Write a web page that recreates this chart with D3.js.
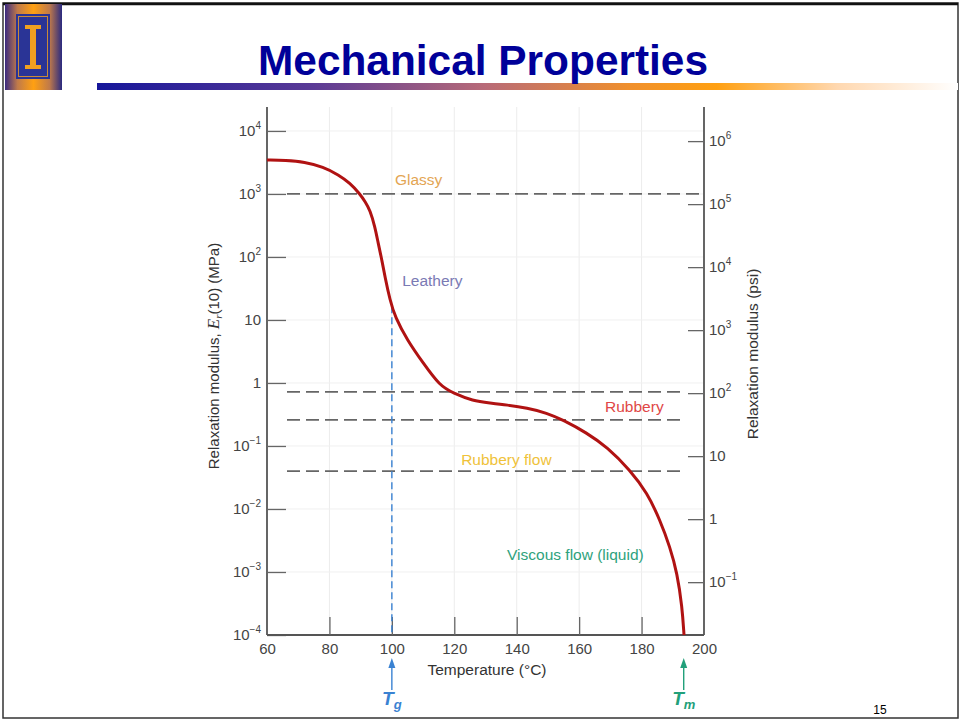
<!DOCTYPE html>
<html>
<head>
<meta charset="utf-8">
<script src="https://cdn.jsdelivr.net/npm/d3@7"></script>
<style>
  body { margin: 0; background: #fff; }
  svg text { font-family: "Liberation Sans", Arial, sans-serif; }
</style>
</head>
<body>
<svg id="chart" width="963" height="721"></svg>
<script>
// curve: temperature (C) vs relaxation modulus (MPa)
const temps = [60, 66, 72, 78, 83, 86.5, 89.8, 91.5, 93, 94.6, 95.6, 96.8, 97.8, 99.4, 101, 104.9, 110, 115.4, 119.6, 126, 131.4, 136.9, 143.3, 149.7, 154.8, 162.5, 168.9, 176.3, 181.8, 185.9, 189.1, 191.4, 193, 193.6];
const modulus = [3467, 3405, 3221, 2683, 2004, 1496, 1000, 747, 557, 299, 167, 89.5, 48.2, 20.7, 11.2, 4.82, 2.08, 0.896, 0.694, 0.518, 0.482, 0.448, 0.401, 0.334, 0.259, 0.161, 0.0964, 0.0416, 0.018, 0.00669, 0.00249, 0.000964, 0.000278, 0.0001];

const xTicks = [60, 80, 100, 120, 140, 160, 180, 200];
const leftTicks = [1e4, 1e3, 1e2, 10, 1, 1e-1, 1e-2, 1e-3, 1e-4];
const rightTicks = [1e6, 1e5, 1e4, 1e3, 1e2, 10, 1, 1e-1];
const psiPerMPa = 145.04;

// region boundaries (MPa) and labels
const boundaries = [1000, 0.72, 0.26, 0.04];
const regions = [
  { name: "Glassy", t: 101, v: 1390, color: "#e3a553" },
  { name: "Leathery", t: 103.3, v: 34.7, color: "#7a7ab4" },
  { name: "Rubbery", t: 168.3, v: 0.347, color: "#e04646" },
  { name: "Rubbery flow", t: 122.2, v: 0.05, color: "#efc23a" },
  { name: "Viscous flow (liquid)", t: 136.9, v: 0.00155, color: "#2ea27c" }
];
const Tg = 100, Tm = 193.5;

const svg = d3.select("#chart");

// ---- slide decoration ----
const defs = svg.append("defs");
const bar = defs.append("linearGradient").attr("id", "bar");
[[0, "#16169a"], [0.25, "#5a3a96"], [0.45, "#b86a78"], [0.62, "#f0902c"], [0.72, "#ffa012"], [0.86, "#ffd8b0"], [1, "#ffffff"]]
  .forEach(([o, c]) => bar.append("stop").attr("offset", o).attr("stop-color", c));
const strip = defs.append("linearGradient").attr("id", "strip");
[[0, "#3a2a80"], [0.22, "#c07a4a"], [0.5, "#ffa012"], [0.78, "#c07a4a"], [1, "#2a2a80"]]
  .forEach(([o, c]) => strip.append("stop").attr("offset", o).attr("stop-color", c));

svg.append("rect").attr("x", 3).attr("y", 3).attr("width", 955).attr("height", 715)
  .attr("fill", "none").attr("stroke", "#333").attr("stroke-width", 1.5);
svg.append("line").attr("x1", 3).attr("x2", 958).attr("y1", 4).attr("y2", 4)
  .attr("stroke", "#111").attr("stroke-width", 2.5);

svg.append("rect").attr("x", 5).attr("y", 4).attr("width", 57).attr("height", 86).attr("fill", "url(#strip)");
svg.append("rect").attr("x", 16).attr("y", 14).attr("width", 34).attr("height", 65).attr("fill", "#2a3496");
svg.append("rect").attr("x", 18.5).attr("y", 16.5).attr("width", 29).attr("height", 60)
  .attr("fill", "none").attr("stroke", "#c88a3a").attr("stroke-width", 1);
svg.append("path")
  .attr("d", "M25,25 L41,25 L41,29 L36,29 L36,65 L41,65 L41,69 L25,69 L25,65 L30,65 L30,29 L25,29 Z")
  .attr("fill", "#f0a020");

svg.append("rect").attr("x", 97).attr("y", 83).attr("width", 861).attr("height", 7).attr("fill", "url(#bar)");

svg.append("text").attr("x", 483).attr("y", 75).attr("text-anchor", "middle")
  .attr("font-size", 42).attr("font-weight", "bold").attr("fill", "#000099")
  .attr("textLength", 450).attr("lengthAdjust", "spacingAndGlyphs")
  .text("Mechanical Properties");

svg.append("text").attr("x", 880).attr("y", 714).attr("text-anchor", "middle")
  .attr("font-size", 12).attr("fill", "#000").text("15");

// ---- chart ----
const x = d3.scaleLinear().domain([60, 200]).range([267, 704]);
const y = d3.scaleLog().domain([1e-4, Math.pow(10, 4.38)]).range([635, 107]);
const y2 = d3.scaleLog().domain(y.domain().map(d => d * psiPerMPa)).range(y.range());
const logAt = d3.scaleLinear().domain(temps).range(modulus.map(Math.log10));

const plot = svg.append("g");
const condensed = "'DejaVu Sans Condensed', 'DejaVu Sans', sans-serif";

// faint grid
plot.selectAll(".vg").data(xTicks.slice(1, -1)).enter().append("line")
  .attr("x1", d => x(d)).attr("x2", d => x(d)).attr("y1", 107).attr("y2", 635)
  .attr("stroke", "#ececec").attr("stroke-width", 1);
plot.selectAll(".hg").data(leftTicks.slice(0, -1)).enter().append("line")
  .attr("x1", 267).attr("x2", 704).attr("y1", d => y(d)).attr("y2", d => y(d))
  .attr("stroke", "#f0f0f0").attr("stroke-width", 1);

function supLabel(sel, anchor) {
  sel.selectAll(".tick text").each(function (d) {
    const t = d3.select(this).text("");
    const e = Math.round(Math.log10(d));
    t.attr("text-anchor", anchor);
    if (e === 0) t.text("1");
    else if (e === 1) t.text("10");
    else {
      t.append("tspan").text("10");
      t.append("tspan").attr("font-size", 10).attr("dy", -7).text(e < 0 ? "\u2212" + (-e) : e);
    }
  });
}

const axisColor = "#555";
const leftAxis = plot.append("g").attr("transform", "translate(267,0)")
  .call(d3.axisLeft(y).tickValues(leftTicks).tickSize(-19).tickPadding(6).tickFormat(() => ""));
supLabel(leftAxis, "end");

const rightAxis = plot.append("g").attr("transform", "translate(704,0)")
  .call(d3.axisRight(y2).tickValues(rightTicks).tickSize(-16).tickPadding(5).tickFormat(() => ""));
supLabel(rightAxis, "start");

const bottomAxis = plot.append("g").attr("transform", "translate(0,635)")
  .call(d3.axisBottom(x).tickValues(xTicks).tickSize(-18).tickPadding(6));

[leftAxis, rightAxis, bottomAxis].forEach(a => {
  a.select(".domain").attr("stroke", axisColor).attr("stroke-width", 1.8);
  a.selectAll(".tick line").attr("stroke", "#666").attr("stroke-width", 1.3);
  a.selectAll(".tick text").attr("fill", "#444").attr("font-size", 15).attr("font-family", condensed);
});
bottomAxis.select(".domain").attr("d", "M267,0H704");
leftAxis.select(".domain").attr("d", "M0,635V107");
rightAxis.select(".domain").attr("d", "M0,635V107");
bottomAxis.selectAll(".tick").filter(d => d === 60 || d === 200).select("line").remove();
bottomAxis.selectAll(".tick text").attr("dy", "0.85em");

// region boundaries
plot.selectAll(".bound").data(boundaries).enter().append("line")
  .attr("x1", 287).attr("x2", (d, i) => i === 0 ? 703 : 686)
  .attr("y1", d => y(d)).attr("y2", d => y(d))
  .attr("stroke", "#666").attr("stroke-width", 1.8).attr("stroke-dasharray", "13,6");

// Tg line
plot.append("line").attr("x1", x(Tg)).attr("x2", x(Tg))
  .attr("y1", y(Math.pow(10, logAt(Tg)))).attr("y2", 635)
  .attr("stroke", "#3a82d2").attr("stroke-width", 1.4).attr("stroke-dasharray", "7,4");

// curve
const clip = defs.append("clipPath").attr("id", "plotclip");
clip.append("rect").attr("x", 267).attr("y", 107).attr("width", 437).attr("height", 528);
plot.append("path")
  .datum(d3.zip(temps, modulus))
  .attr("clip-path", "url(#plotclip)")
  .attr("fill", "none").attr("stroke", "#b01212").attr("stroke-width", 3)
  .attr("d", d3.line().x(d => x(d[0])).y(d => y(d[1])).curve(d3.curveBasis));

// region labels
plot.selectAll(".reg").data(regions).enter().append("text")
  .attr("x", d => x(d.t)).attr("y", d => y(d.v))
  .attr("fill", d => d.color).attr("font-size", 15.5).attr("font-family", condensed)
  .text(d => d.name);

// axis titles
svg.append("text").attr("x", 487).attr("y", 675).attr("text-anchor", "middle")
  .attr("font-size", 15.5).attr("fill", "#333").attr("font-family", condensed)
  .text("Temperature (\u00B0C)");

const lt = svg.append("text").attr("transform", "translate(219,356) rotate(-90)")
  .attr("text-anchor", "middle").attr("font-size", 15).attr("fill", "#333");
lt.append("tspan").text("Relaxation modulus, ");
lt.append("tspan").attr("font-family", "'Liberation Serif', serif").attr("font-style", "italic").attr("font-size", 17).text("E");
lt.append("tspan").attr("font-family", "'Liberation Serif', serif").attr("font-style", "italic").attr("font-size", 11).attr("dy", 3).text("r");
lt.append("tspan").attr("dy", -3).text("(10) (MPa)");

svg.append("text").attr("transform", "translate(758,354) rotate(-90)")
  .attr("text-anchor", "middle").attr("font-size", 15.5).attr("fill", "#333")
  .text("Relaxation modulus (psi)");

// Tg / Tm markers
[{ t: Tg, sub: "g", color: "#3a82d2" }, { t: Tm, sub: "m", color: "#22a07a" }].forEach(m => {
  const g = svg.append("g").attr("transform", `translate(${x(m.t)},0)`);
  g.append("line").attr("y1", 690).attr("y2", 664).attr("stroke", m.color).attr("stroke-width", 1.4);
  g.append("path").attr("d", "M0,658 L-3.5,668 L3.5,668 Z").attr("fill", m.color);
  const tt = g.append("text").attr("y", 705).attr("text-anchor", "middle").attr("fill", m.color)
    .attr("font-family", "'Liberation Serif', serif").attr("font-style", "italic").attr("font-weight", "bold");
  tt.append("tspan").attr("font-size", 19).text("T");
  tt.append("tspan").attr("font-size", 13).attr("dy", 4).text(m.sub);
});
</script>
</body>
</html>
